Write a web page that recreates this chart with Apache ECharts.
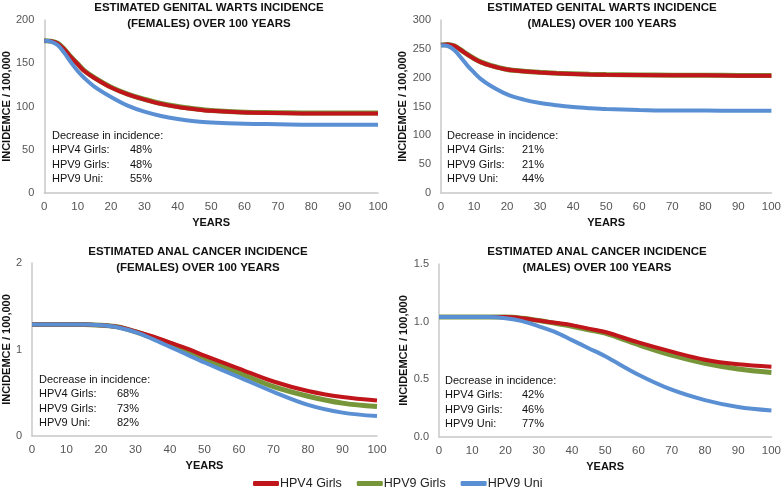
<!DOCTYPE html>
<html><head><meta charset="utf-8">
<script src="https://cdn.jsdelivr.net/npm/echarts@6/dist/echarts.min.js"></script>
<style>html,body{margin:0;padding:0;background:#fff}#c{width:784px;height:491px}</style>
</head><body><div id="c"></div>
<script>
const years = [0,2,4,6,8,10,12,15,20,25,30,35,40,45,50,60,70,80,90,100];
const seriesNames = ['HPV4 Girls','HPV9 Girls','HPV9 Uni'];

// Genital warts, females
const gwF_hpv4 = [176,175.5,173,166,157,149,141,133,122,114,108,103,99.5,97,95,93,92.5,92,92,92];
const gwF_hpv9 = [176,175.6,173.2,166.3,157.3,149.3,141.4,133.4,122.4,114.4,108.4,103.4,99.9,97.4,95.4,93.4,92.9,92.4,92.4,92.4];
const gwF_uni  = [176,175,171,162,151,141,133,123,111,101,94,89,85.5,83,81.5,80,79.5,79,79,79];
// Genital warts, males
const gwM_hpv4 = [256.5,257.5,255,248,240,233,227,221,214,211,209,207.5,206.5,205.5,205,204.5,204,204,203.5,203.5];
const gwM_hpv9 = [256.5,257.5,255.2,248.3,240.3,233.3,227.3,221.3,214.3,211.3,209.3,207.8,206.8,205.8,205.3,204.8,204.3,204.3,203.8,203.8];
const gwM_uni  = [256,255,248,235,221,209,198,186,171,162,156,152,149,147,145.5,144,143,143,142.5,142.5];
// Anal cancer, females
const acF_hpv4 = [1.29,1.29,1.29,1.29,1.29,1.29,1.29,1.29,1.28,1.26,1.21,1.15,1.08,1.01,0.93,0.78,0.63,0.52,0.45,0.41];
const acF_hpv9 = [1.29,1.29,1.29,1.29,1.29,1.29,1.29,1.29,1.28,1.26,1.205,1.14,1.07,0.98,0.89,0.73,0.57,0.46,0.38,0.34];
const acF_uni  = [1.29,1.29,1.29,1.29,1.29,1.29,1.29,1.29,1.28,1.255,1.20,1.12,1.03,0.94,0.85,0.68,0.51,0.36,0.27,0.23];
// Anal cancer, males
const acM_hpv4 = [1.04,1.04,1.04,1.04,1.04,1.04,1.04,1.04,1.04,1.03,1.01,0.99,0.97,0.94,0.91,0.82,0.74,0.67,0.63,0.61];
const acM_hpv9 = [1.04,1.04,1.04,1.04,1.04,1.04,1.04,1.04,1.04,1.03,1.01,0.985,0.96,0.93,0.90,0.80,0.71,0.64,0.59,0.56];
const acM_uni  = [1.04,1.04,1.04,1.04,1.04,1.04,1.04,1.04,1.03,1.005,0.96,0.91,0.84,0.77,0.70,0.54,0.41,0.32,0.26,0.23];

const panelTitles = [
  'ESTIMATED GENITAL WARTS INCIDENCE\n(FEMALES) OVER 100 YEARS',
  'ESTIMATED GENITAL WARTS INCIDENCE\n(MALES) OVER 100 YEARS',
  'ESTIMATED ANAL CANCER INCIDENCE\n(FEMALES) OVER 100 YEARS',
  'ESTIMATED ANAL CANCER INCIDENCE\n(MALES) OVER 100 YEARS'
];
const decreaseLabels = ['HPV4 Girls:','HPV9 Girls:','HPV9 Uni:'];
const decreases = [['48%','48%','55%'],['21%','21%','44%'],['68%','73%','82%'],['42%','46%','77%']];
const yMax = [200,300,2,1.5];
const yInterval = [50,50,1,0.5];

const panelData = [
  [gwF_hpv4,gwF_hpv9,gwF_uni],
  [gwM_hpv4,gwM_hpv9,gwM_uni],
  [acF_hpv4,acF_hpv9,acF_uni],
  [acM_hpv4,acM_hpv9,acM_uni]
];

const colors = ['#C0161B','#77963A','#5A90D3'];
const grids = [
  {left:44, right:406, top:20, height:173},
  {left:441, right:8, top:20, height:173},
  {left:32, right:407, top:263, height:173},
  {left:439, right:9, top:264, height:173}
];
const titlePos = [[204,-5],[597,-5],[193,239],[592,239]];
const yNameGap = [30,31,18,28];
const annotPos = [[52,137,130],[447,137,522],[39,381,117],[445,382,522]];

const font = 'Liberation Sans, Arial, sans-serif';
const xAxes=[], yAxes=[], series=[], titles=[], graphics=[];
for (let p=0;p<4;p++){
  xAxes.push({gridIndex:p,type:'value',min:0,max:100,interval:10,
    name:'YEARS',nameLocation:'middle',nameGap:24,
    nameTextStyle:{fontFamily:font,fontSize:11,fontWeight:'bold',color:'#111'},
    axisLine:{show:true,lineStyle:{color:'#c8c8c8',width:1.5}},axisTick:{show:false},
    splitLine:{show:false},
    axisLabel:{fontFamily:font,fontSize:11.5,color:'#555',margin:8}});
  yAxes.push({gridIndex:p,type:'value',min:0,max:yMax[p],interval:yInterval[p],
    name:'INCIDEMCE / 100,000',nameLocation:'middle',nameGap:yNameGap[p],
    nameTextStyle:{fontFamily:font,fontSize:11,fontWeight:'bold',color:'#111'},
    axisLine:{show:true,lineStyle:{color:'#c8c8c8',width:1.5}},axisTick:{show:false},
    splitLine:{show:false},
    axisLabel:{fontFamily:font,fontSize:11,color:'#555',margin:10,
      formatter: p===3 ? (v=>v.toFixed(1)) : (v=>String(v))}});
  const widths=[4,5,4];
  const order = [1,0,2];
  order.forEach((s,k)=>{
    series.push({name:seriesNames[s],type:'line',xAxisIndex:p,yAxisIndex:p,
      data: years.map((y,i)=>[y,panelData[p][s][i]]),
      smooth:0.35,showSymbol:false,symbol:'none',
      lineStyle:{color:colors[s],width:widths[s]},itemStyle:{color:colors[s]},
      z: (p===3 && s===2) ? 5 : 2+k});
  });
  titles.push({text:panelTitles[p],left:titlePos[p][0],top:titlePos[p][1],textAlign:'center',
    textStyle:{fontFamily:font,fontSize:11.5,fontWeight:'bold',color:'#111',lineHeight:16}});
  const [ax,ay,px]=annotPos[p];
  graphics.push({type:'text',left:ax,top:ay-7,style:{text:'Decrease in incidence:',font:'11px '+font,fill:'#111'}});
  for (let r=0;r<3;r++){
    const yy = ay+14.5*(r+1)-7;
    graphics.push({type:'text',left:ax,top:yy,style:{text:decreaseLabels[r],font:'11px '+font,fill:'#111'}});
    graphics.push({type:'text',left:px,top:yy,style:{text:decreases[p][r],font:'11px '+font,fill:'#111'}});
  }
}

const chart = echarts.init(document.getElementById('c'));
chart.setOption({
  animation:false,
  color:colors,
  title:titles,
  grid:grids,
  xAxis:xAxes,
  yAxis:yAxes,
  series:series,
  graphic:graphics,
  legend:{data:seriesNames,left:248,top:472,icon:'roundRect',itemWidth:26,itemHeight:5,itemGap:15,
    textStyle:{fontFamily:font,fontSize:12.5,color:'#222',padding:[0,0,0,-4]}}
});
</script></body></html>
